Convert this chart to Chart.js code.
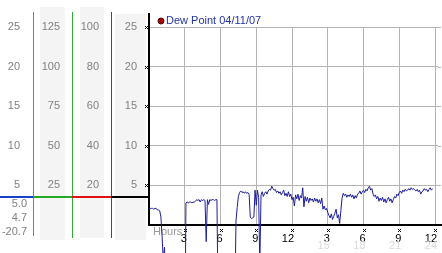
<!DOCTYPE html>
<html>
<head>
<meta charset="utf-8">
<script src="https://cdn.jsdelivr.net/npm/chart.js@4"></script>
<style>
  html, body { margin: 0; padding: 0; background: #fff; }
</style>
</head>
<body>
<canvas id="dewChart" width="442" height="253"></canvas>
<script>
// one reading every 6 minutes, starting at midnight
const STEP_HOURS = 0.1;
const seriesLabel = 'Dew Point 04/11/07';

// each row = one hour
const dewPoint = [
    2.1, 2.1, 2.1, 2.1, 2.0, 2.1, 2.1, 1.9, 1.9, 1.8,
    1.0, -1.5, -4.5, -2.8, -9.0, -14.0, -17.0, -18.5, -19.5, -20.0,
    -20.3, -20.7, -20.5, -20.1, -19.6, -19.2, -18.8, -18.5, -18.1, -17.6,
    -17.2, 2.8, 2.9, 2.8, 2.9, 2.9, 2.8, 2.9, 2.9, 3.0,
    3.2, 3.1, 3.2, 2.9, 3.2, 3.1, 3.2, 3.1, -2.1, 3.2,
    2.6, 3.2, 3.1, 3.2, 3.2, 3.1, 3.2, 3.2, -10.0, -15.0,
    -16.0, -17.0, -17.5, -18.0, -17.6, -17.0, -16.5, -16.0, -15.5, -15.0,
    -14.8, -14.0, -10.0, 0.5, 2.2, 3.6, 4.1, 4.3, 4.1, 4.2,
    4.0, 4.2, 4.0, 4.1, 3.9, 1.0, 0.8, 0.9, 1.0, 4.4,
    2.5, 4.4, 3.5, -5.0, 3.8, 4.2, 3.6, 4.0, 4.2, 3.9,
    4.3, 4.5, 4.4, 4.9, 4.6, 4.4, 4.5, 4.1, 4.3, 4.0,
    4.2, 3.8, 4.1, 4.4, 3.7, 4.0, 3.6, 4.2, 3.6, 3.9,
    3.2, 3.5, 2.4, 3.8, 3.3, 3.9, 3.1, 3.7, 3.4, 4.7,
    2.3, 3.6, 3.0, 3.5, 2.8, 3.4, 3.1, 3.3, 2.9, 3.4,
    3.0, 3.3, 2.8, 3.2, 2.7, 3.4, 2.0, 2.4, 1.9, 2.1,
    1.6, 1.2, 0.9, 1.4, 0.7, 1.1, 1.5, 2.0, 0.9, 1.3,
    0.2, 1.8, 3.4, 4.0, 3.7, 3.9, 3.5, 3.8, 3.6, 3.9,
    3.5, 3.8, 3.3, 3.7, 3.4, 3.9, 4.0, 4.3, 3.9, 4.2,
    4.4, 4.1, 4.5, 4.3, 4.7, 4.9, 4.4, 4.6, 3.9, 3.6,
    3.8, 3.3, 3.6, 3.0, 3.4, 3.1, 3.5, 2.9, 3.3, 2.8,
    3.2, 3.5, 3.0, 3.3, 2.8, 3.2, 3.6, 3.4, 3.9, 3.7,
    4.1, 4.3, 4.0, 4.4, 4.2, 4.5, 4.3, 4.4, 4.6, 4.4,
    4.7, 4.5, 4.6, 4.4, 4.3, 4.5, 4.2, 4.4, 3.9, 4.2,
    4.3, 4.6, 4.4, 4.5, 4.2, 4.5, 4.7, 4.4, 4.6
];

// x ticks every 3 hours
const hourTicks = ['', '3', '6', '9', '12', '3', '6', '9', '12'];
const hourTicksPale = ['', '', '', '', '', '15', '18', '21', '24'];

// left side scales, one column each, matched to grid values
const gridValues = [25, 20, 15, 10, 5];
const colA = ['25', '20', '15', '10', '5'];
const colB = ['125', '100', '75', '50', '25'];
const colC = ['100', '80', '60', '40', '20'];
const colD = ['25', '20', '15', '10', '5'];
const summary = ['5.0', '4.7', '-20.7'];

const FONT = '11px "Liberation Sans", Arial, sans-serif';

const drawMark = (ctx, x, y) => {
    ctx.fillRect(x - 1, y - 1, 1, 1);
    ctx.fillRect(x + 1, y - 1, 1, 1);
    ctx.fillRect(x, y, 1, 1);
    ctx.fillRect(x - 1, y + 1, 1, 1);
    ctx.fillRect(x + 1, y + 1, 1, 1);
};

const sidePanels = {
    id: 'sidePanels',
    beforeDraw(chart) {
        const { ctx } = chart;
        const y = chart.scales.y;
        ctx.save();
        // shaded columns
        ctx.fillStyle = '#f4f4f4';
        ctx.fillRect(40, 7, 25, 233);
        ctx.fillRect(80, 7, 24, 231);
        ctx.fillRect(115, 14, 31, 226);

        // column divider lines
        ctx.fillStyle = '#3399cc';
        ctx.fillRect(33, 12, 1, 224);
        ctx.fillStyle = '#33aa33';
        ctx.fillRect(72, 12, 1, 226);
        ctx.fillStyle = '#aa2222';
        ctx.fillRect(111, 12, 1, 226);

        // labels
        ctx.font = FONT;
        ctx.fillStyle = '#808080';
        ctx.textAlign = 'right';
        ctx.textBaseline = 'middle';
        gridValues.forEach((v, i) => {
            const py = y.getPixelForValue(v);
            ctx.fillText(colA[i], 20, py);
            ctx.fillText(colB[i], 60, py);
            ctx.fillText(colC[i], 99, py);
            ctx.fillText(colD[i], 137, py);
        });
        ctx.fillText(summary[0], 27, 204);
        ctx.fillText(summary[1], 27, 218);
        ctx.fillText(summary[2], 27, 232);

        // current value bar
        ctx.fillStyle = '#1a3fcc';
        ctx.fillRect(0, 196, 33, 2);
        ctx.fillStyle = '#22aa22';
        ctx.fillRect(33, 196, 39, 2);
        ctx.fillStyle = '#dd1111';
        ctx.fillRect(72, 196, 39, 2);
        ctx.fillStyle = '#000';
        ctx.fillRect(111, 196, 38, 2);
        ctx.restore();
    },
    beforeDatasetsDraw(chart) {
        const { ctx } = chart;
        const x = chart.scales.x;
        const y = chart.scales.y;
        ctx.save();
        // right part of horizontal grid lines
        ctx.fillStyle = '#b4b4b4';
        gridValues.forEach(v => {
            ctx.fillRect(chart.chartArea.right, Math.round(y.getPixelForValue(v)), 3, 1);
        });
        // axes
        ctx.fillStyle = '#000';
        ctx.fillRect(148, 13, 2, 212);
        ctx.fillRect(148, 224, 294, 2);
        gridValues.forEach(v => drawMark(ctx, 146, Math.round(y.getPixelForValue(v))));
        hourTicks.forEach((t, i) => {
            if (t) drawMark(ctx, Math.round(x.getPixelForValue(i * 3)), 230);
        });

        ctx.font = FONT;
        ctx.textBaseline = 'middle';
        ctx.textAlign = 'left';
        ctx.fillStyle = '#999';
        ctx.fillText('Hours', 153, 232);

        ctx.textAlign = 'right';
        ctx.fillStyle = '#dadada';
        hourTicksPale.forEach((t, i) => {
            if (t) ctx.fillText(t, x.getPixelForValue(i * 3) + 2, 246);
        });

        // legend
        ctx.beginPath();
        ctx.arc(161, 21, 3, 0, Math.PI * 2);
        ctx.fillStyle = '#aa0000';
        ctx.fill();
        ctx.strokeStyle = '#550000';
        ctx.lineWidth = 1;
        ctx.stroke();
        ctx.textAlign = 'left';
        ctx.fillStyle = '#2233aa';
        ctx.fillText(seriesLabel, 166, 21);
        ctx.restore();
    }
};

const ctx = document.getElementById('dewChart').getContext('2d');
new Chart(ctx, {
    type: 'line',
    data: {
        datasets: [{
            label: seriesLabel,
            data: dewPoint.map((v, i) => ({ x: i * STEP_HOURS, y: v })),
            borderColor: '#1c1c9c',
            borderWidth: 1,
            pointRadius: 0,
            tension: 0,
            clip: false
        }]
    },
    options: {
        responsive: false,
        animation: false,
        devicePixelRatio: 1,
        layout: { padding: { top: 27, left: 0, right: 0, bottom: 0 } },
        plugins: {
            legend: { display: false },
            tooltip: { enabled: false }
        },
        scales: {
            x: {
                type: 'linear',
                min: 0,
                max: 24.25,
                afterFit: s => { s.height = 28; },
                grid: { color: '#b4b4b4', drawTicks: false },
                border: { display: false },
                ticks: {
                    stepSize: 3,
                    includeBounds: false,
                    autoSkip: false,
                    maxRotation: 0,
                    align: 'end',
                    labelOffset: 2,
                    padding: 7,
                    color: '#000',
                    font: { family: '"Liberation Sans", Arial, sans-serif', size: 11 },
                    callback: v => hourTicks[Math.round(v / 3)]
                }
            },
            y: {
                min: 0,
                max: 25,
                afterFit: s => { s.width = 149; },
                grid: { color: '#b4b4b4', drawTicks: false },
                border: { display: false },
                ticks: { display: false, stepSize: 5 }
            }
        }
    },
    plugins: [sidePanels]
});
</script>
</body>
</html>
